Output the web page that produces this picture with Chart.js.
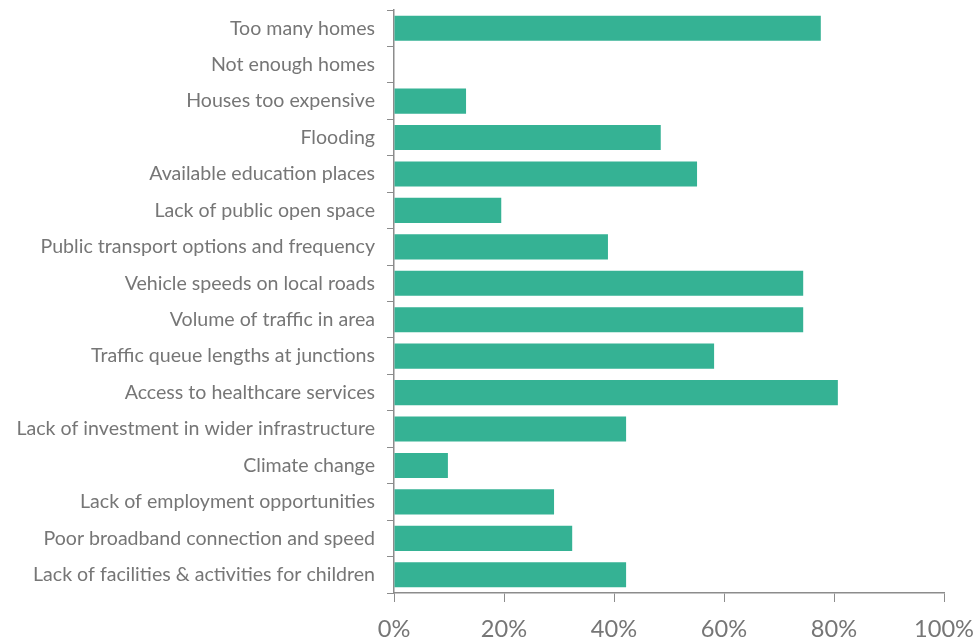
<!DOCTYPE html>
<html>
<head>
<meta charset="utf-8">
<script src="https://cdn.jsdelivr.net/npm/chart.js@4/dist/chart.umd.min.js"></script>
<style>
  html, body { margin: 0; padding: 0; background: #fff; }
  #wrap { width: 977px; height: 640px; position: relative; }
</style>
</head>
<body>
<div id="wrap"><canvas id="issuesChart"></canvas></div>
<script>
// issue categories, top to bottom
var categories = [
  'Too many homes',
  'Not enough homes',
  'Houses too expensive',
  'Flooding',
  'Available education places',
  'Lack of public open space',
  'Public transport options and frequency',
  'Vehicle speeds on local roads',
  'Volume of traffic in area',
  'Traffic queue lengths at junctions',
  'Access to healthcare services',
  'Lack of investment in wider infrastructure',
  'Climate change',
  'Lack of employment opportunities',
  'Poor broadband connection and speed',
  'Lack of facilities & activities for children'
];

// share of respondents (%)
var shares = [77.6, 0, 13.1, 48.5, 55.1, 19.5, 38.9, 74.4, 74.4, 58.2, 80.7, 42.2, 9.8, 29.1, 32.4, 42.2];

var axisTicks = [0, 20, 40, 60, 80, 100];

var barColor = '#35B294';
var axisColor = '#8c8c8c';
var textColor = '#767676';

const ctx = document.getElementById('issuesChart').getContext('2d');
const issuesChart = new Chart(ctx, {
  type: 'bar',
  data: {
    labels: categories,
    datasets: [{
      data: shares,
      backgroundColor: barColor,
      borderWidth: 0,
      categoryPercentage: 0.69,
      barPercentage: 1
    }]
  },
  options: {
    indexAxis: 'y',
    responsive: true,
    maintainAspectRatio: false,
    animation: false,
    layout: {
      padding: { top: 10, right: 33, bottom: 0, left: 0 }
    },
    plugins: {
      legend: { display: false },
      tooltip: { enabled: false }
    },
    scales: {
      y: {
        afterFit: function (scale) {
          scale.width = 394;
          // keep label overhang from shifting the plot area
          scale.paddingTop = 0;
          scale.paddingBottom = 0;
        },
        grid: {
          drawOnChartArea: false,
          color: axisColor,
          tickLength: 7,
          offset: true
        },
        border: { color: axisColor, width: 1.5 },
        ticks: {
          color: textColor,
          padding: 12,
          font: { family: 'Lato', size: 19.6 }
        }
      },
      x: {
        min: 0,
        max: 100,
        afterBuildTicks: function (scale) {
          scale.ticks = axisTicks.map(function (v) { return { value: v }; });
        },
        afterFit: function (scale) {
          scale.height = 47;
          scale.paddingLeft = 0;
          scale.paddingRight = 0;
        },
        grid: {
          drawOnChartArea: false,
          color: axisColor,
          tickLength: 9
        },
        border: { color: axisColor, width: 1.5 },
        ticks: {
          color: textColor,
          padding: 13,
          font: { family: 'Lato', size: 23.6 },
          callback: function (val) { return val + '%'; }
        }
      }
    }
  }
});
</script>
</body>
</html>
